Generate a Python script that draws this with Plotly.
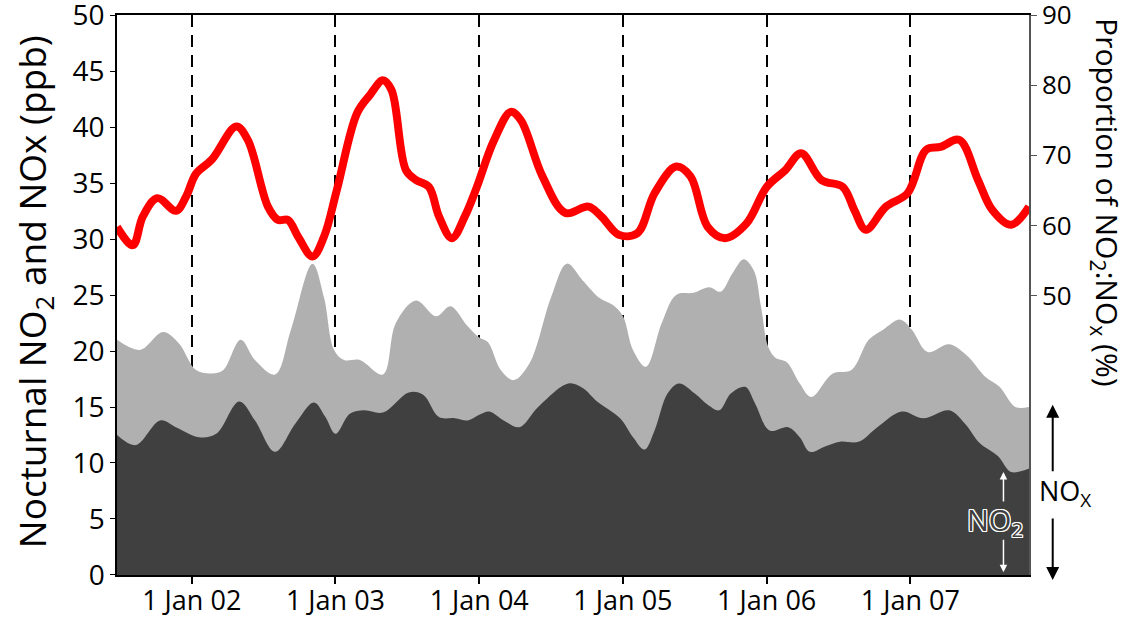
import plotly.graph_objects as go

# ---- data (decimal years) ----
nox_t = [2001.48, 2001.64, 2001.80, 2001.91, 2002.03, 2002.14, 2002.22, 2002.34, 2002.44, 2002.58,
         2002.69, 2002.84, 2002.92, 2002.99, 2003.06, 2003.17, 2003.33, 2003.42, 2003.56, 2003.70,
         2003.80, 2003.92, 2004.00, 2004.06, 2004.15, 2004.24, 2004.35, 2004.50, 2004.61, 2004.72,
         2004.84, 2004.93, 2005.00, 2005.07, 2005.16, 2005.27, 2005.37, 2005.49, 2005.60, 2005.68,
         2005.76, 2005.84, 2005.91, 2005.96, 2006.01, 2006.06, 2006.14, 2006.23, 2006.31, 2006.46,
         2006.59, 2006.71, 2006.81, 2006.93, 2007.01, 2007.12, 2007.27, 2007.40, 2007.52, 2007.62,
         2007.73, 2007.825]
nox_v = [21.0, 20.1, 21.7, 20.7, 18.3, 18.0, 18.3, 21.0, 19.2, 17.9,
         21.9, 27.8, 24.8, 20.1, 19.2, 19.2, 17.9, 22.5, 24.5, 23.1,
         24.0, 22.2, 21.2, 20.8, 18.3, 17.4, 18.9, 24.8, 27.8, 26.3,
         24.7, 24.1, 23.1, 20.1, 18.6, 22.5, 25.0, 25.2, 25.7, 25.3,
         26.9, 28.2, 27.2, 24.0, 20.4, 19.4, 19.0, 17.1, 15.9, 18.0,
         18.3, 21.0, 21.9, 22.8, 21.9, 19.9, 20.6, 19.5, 17.7, 16.8,
         15.0, 15.0]

no2_t = [2001.48, 2001.61, 2001.78, 2001.89, 2002.05, 2002.17, 2002.33, 2002.44, 2002.58, 2002.72,
         2002.85, 2002.93, 2003.00, 2003.10, 2003.20, 2003.33, 2003.51, 2003.61, 2003.72, 2003.83,
         2003.92, 2004.00, 2004.07, 2004.17, 2004.28, 2004.41, 2004.62, 2004.72, 2004.82, 2004.98,
         2005.07, 2005.15, 2005.22, 2005.31, 2005.39, 2005.50, 2005.59, 2005.67, 2005.75, 2005.85,
         2005.92, 2006.02, 2006.15, 2006.23, 2006.30, 2006.41, 2006.51, 2006.64, 2006.77, 2006.94,
         2007.09, 2007.27, 2007.38, 2007.48, 2007.61, 2007.70, 2007.825]
no2_v = [12.5, 11.6, 13.8, 13.2, 12.3, 12.6, 15.5, 13.8, 11.0, 13.5,
         15.4, 14.1, 12.6, 14.4, 14.7, 14.5, 16.3, 16.1, 14.1, 14.0,
         13.8, 14.3, 14.6, 13.8, 13.2, 15.0, 17.1, 16.7, 15.5, 14.0,
         12.3, 11.2, 12.9, 16.2, 17.1, 16.2, 15.2, 14.7, 16.2, 16.8,
         15.3, 12.9, 13.2, 12.3, 11.0, 11.5, 11.9, 11.9, 13.2, 14.6,
         14.0, 14.7, 13.5, 11.8, 10.6, 9.2, 9.5]

ratio_t = [2001.48, 2001.59, 2001.66, 2001.76, 2001.89, 2001.96, 2002.03, 2002.14, 2002.31, 2002.39,
           2002.53, 2002.60, 2002.67, 2002.74, 2002.84, 2002.92, 2003.01, 2003.15, 2003.24, 2003.33,
           2003.39, 2003.49, 2003.56, 2003.65, 2003.72, 2003.81, 2003.90, 2003.98, 2004.10, 2004.22,
           2004.29, 2004.44, 2004.60, 2004.76, 2004.85, 2004.97, 2005.10, 2005.22, 2005.37, 2005.47,
           2005.59, 2005.71, 2005.86, 2006.00, 2006.13, 2006.24, 2006.38, 2006.53, 2006.61, 2006.69,
           2006.83, 2006.98, 2007.11, 2007.21, 2007.34, 2007.47, 2007.57, 2007.70, 2007.825]
ratio_v = [59.8, 57.2, 61.3, 63.9, 62.1, 64.1, 67.4, 69.4, 74.1, 72.2,
           62.7, 60.8, 60.8, 58.4, 55.6, 58.4, 65.1, 76.0, 78.6, 80.7,
           79.3, 67.9, 66.5, 65.5, 61.3, 58.2, 61.3, 65.3, 72.0, 76.2,
           75.0, 67.0, 61.8, 62.7, 61.3, 58.7, 58.9, 64.6, 68.4, 67.0,
           59.8, 58.2, 60.3, 65.5, 67.9, 70.3, 66.5, 65.5, 62.2, 59.4,
           62.7, 64.6, 70.8, 71.2, 72.2, 66.5, 62.2, 60.1, 62.7]

year_ticks = [2002, 2003, 2004, 2005, 2006, 2007]
year_labels = ["1 Jan 02", "1 Jan 03", "1 Jan 04", "1 Jan 05", "1 Jan 06", "1 Jan 07"]
left_ticks = [0, 5, 10, 15, 20, 25, 30, 35, 40, 45, 50]
right_ticks = [50, 60, 70, 80, 90]

FONT = "Open Sans"

fig = go.Figure()
fig.add_trace(go.Scatter(x=nox_t, y=nox_v, mode="lines", line=dict(width=0, shape="spline", smoothing=1.0, color="#b0b0b0"),
                         fill="tozeroy", fillcolor="#b0b0b0", hoverinfo="skip", showlegend=False))
fig.add_trace(go.Scatter(x=no2_t, y=no2_v, mode="lines", line=dict(width=0, shape="spline", smoothing=1.0, color="#404040"),
                         fill="tozeroy", fillcolor="#404040", hoverinfo="skip", showlegend=False))
fig.add_trace(go.Scatter(x=ratio_t, y=ratio_v, mode="lines", yaxis="y2",
                         line=dict(width=8, shape="spline", smoothing=1.0, color="#ff0000"),
                         hoverinfo="skip", showlegend=False))

fig.update_layout(
    width=1132, height=621,
    margin=dict(l=117, r=103, t=15, b=46),
    paper_bgcolor="white", plot_bgcolor="white",
    font=dict(family=FONT, color="black", size=24),
    xaxis=dict(range=[2001.48, 2007.825], tickvals=year_ticks, ticktext=year_labels,
               ticks="outside", ticklen=7, tickwidth=1.5, tickcolor="black",
               showline=True, linecolor="black", linewidth=1.5, mirror=True,
               showgrid=True, gridcolor="black", gridwidth=2, griddash="12px,8px",
               zeroline=False, tickfont=dict(size=27), ticklabelstandoff=-6,
               ticklabeloverflow="allow", automargin=False),
    yaxis=dict(range=[-0.001, 50.001], tickvals=left_ticks, ticks="outside", ticklen=5, tickcolor="black",
               showline=True, linecolor="black", linewidth=1.5, showgrid=False, zeroline=False,
               tickfont=dict(size=28), ticklabeloverflow="allow", automargin=False),
    yaxis2=dict(range=[10.2, 90.001], tickvals=right_ticks, overlaying="y", side="right",
                ticks="outside", ticklen=6, tickcolor="#555", showline=True, linecolor="#555",
                linewidth=1.5, showgrid=False, zeroline=False, tickfont=dict(size=26),
                ticklabeloverflow="allow", automargin=False),
)

annotations = [
    dict(text="Nocturnal NO<sub>2</sub> and NOx (ppb)", xref="paper", yref="paper", x=-0.091, y=0.505,
         textangle=-90, showarrow=False, font=dict(size=37), xanchor="center", yanchor="middle"),
    dict(text="Proportion of NO<sub>2</sub>:NO<sub>x</sub> (%)", xref="paper", yref="paper", x=1.085, y=0.665,
         textangle=90, showarrow=False, font=dict(size=30), xanchor="center", yanchor="middle"),
    # NOx arrows (outside, black)
    dict(text="", xref="paper", yref="paper", x=1.026, y=0.304, ax=0, ay=68,
         showarrow=True, arrowhead=2, arrowsize=1.3, arrowwidth=2, arrowcolor="black"),
    dict(text="", xref="paper", yref="paper", x=1.026, y=-0.009, ax=0, ay=-63,
         showarrow=True, arrowhead=2, arrowsize=1.3, arrowwidth=2, arrowcolor="black"),
    dict(text="NO<sub>X</sub>", xref="paper", yref="paper", x=1.009, y=0.147, showarrow=False,
         font=dict(size=27), xanchor="left", yanchor="middle"),
    # NO2 arrows (inside, white)
    dict(text="", xref="paper", yref="paper", x=0.972, y=0.184, ax=0, ay=31,
         showarrow=True, arrowhead=2, arrowsize=1.0, arrowwidth=1.5, arrowcolor="white"),
    dict(text="", xref="paper", yref="paper", x=0.972, y=0.005, ax=0, ay=-34,
         showarrow=True, arrowhead=2, arrowsize=1.0, arrowwidth=1.5, arrowcolor="white"),
    dict(text="NO<sub>2</sub>", xref="paper", yref="paper", x=0.963, y=0.095, showarrow=False,
         font=dict(size=29, color="#404040",
                   shadow="1px 1px 0 white, -1px -1px 0 white, 1px -1px 0 white, -1px 1px 0 white, 0 1px 0 white, 0 -1px 0 white, 1px 0 0 white, -1px 0 0 white"),
         xanchor="center", yanchor="middle"),
]
fig.update_layout(annotations=annotations)

fig.write_html("out.html")
